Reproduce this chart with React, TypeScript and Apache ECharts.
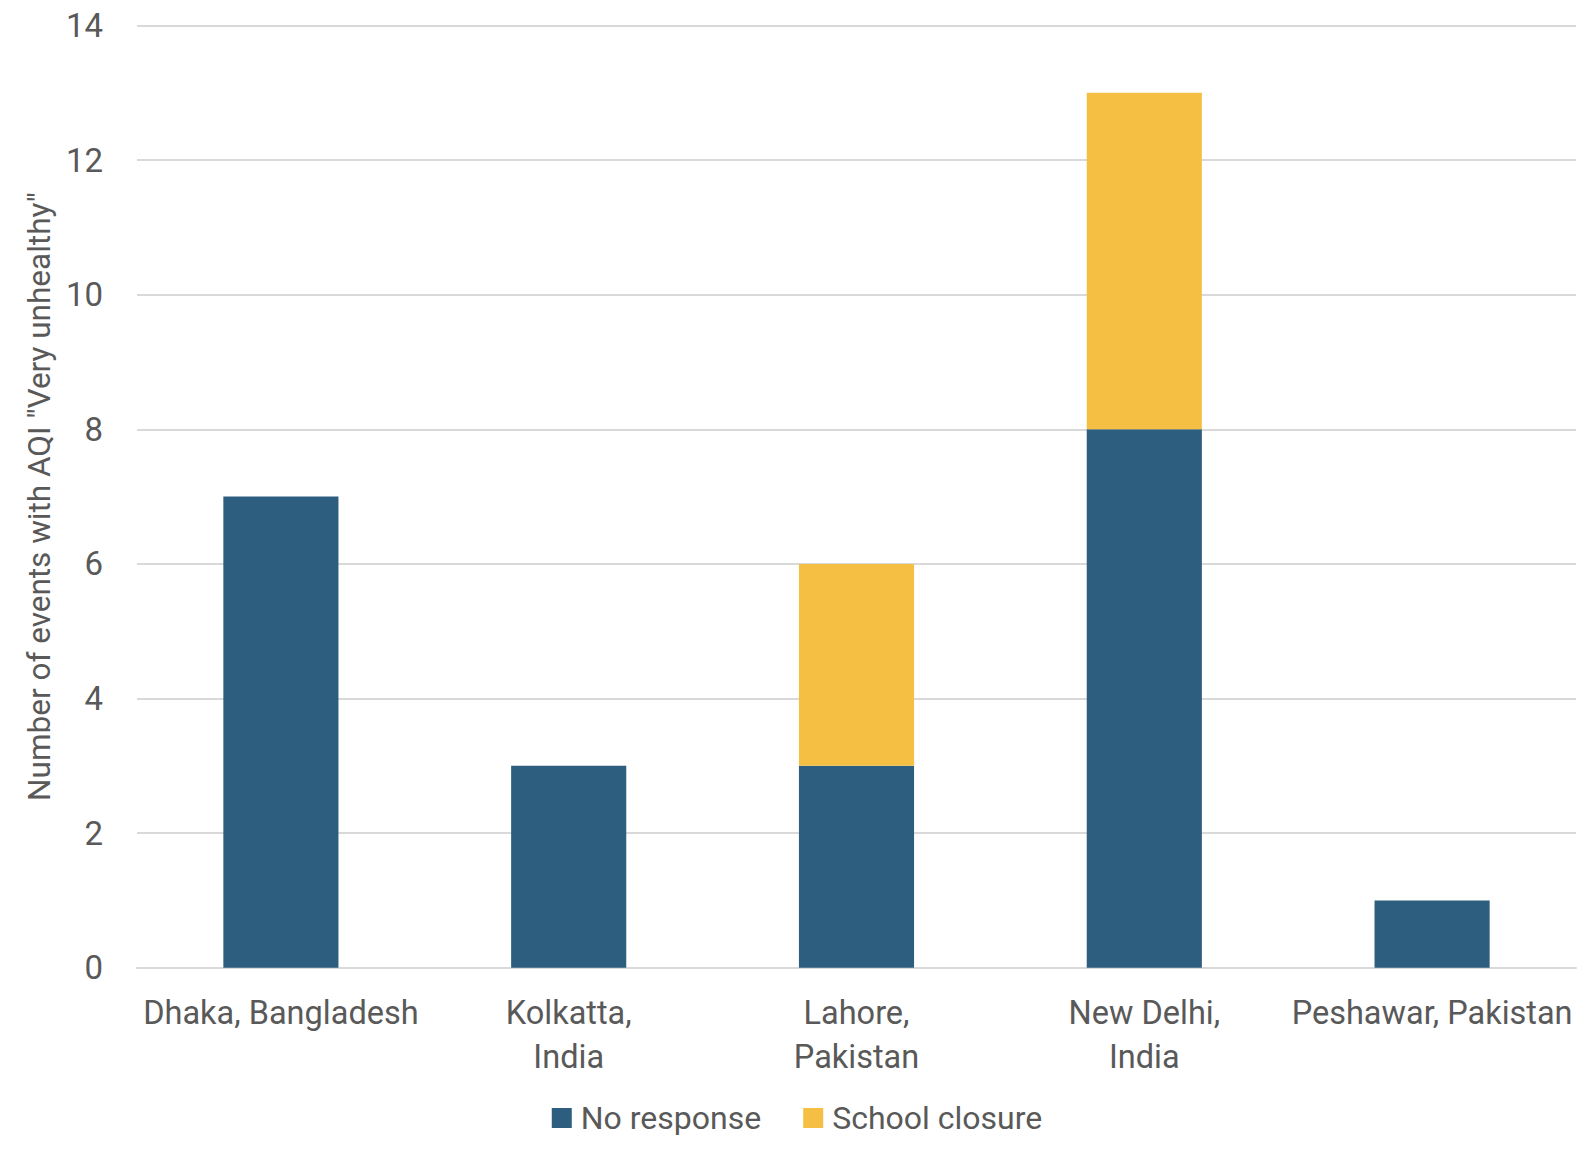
import React, { useEffect, useRef } from "react";
import * as echarts from "echarts";

const categories = [
  "Dhaka, Bangladesh",
  "Kolkatta,\nIndia",
  "Lahore,\nPakistan",
  "New Delhi,\nIndia",
  "Peshawar, Pakistan",
];
const noResponse = [7, 3, 3, 8, 1];
const schoolClosure = [0, 0, 3, 5, 0];
const seriesNames = ["No response", "School closure"];
const yTicks = { min: 0, max: 14, interval: 2 };
const yAxisTitle = 'Number of events with AQI "Very unhealthy"';

const FONT = "Roboto, 'Noto Sans', 'DejaVu Sans', sans-serif";
const TEXT = "#595959";
const GRID = "#D9D9D9";

export default function App() {
  const ref = useRef<HTMLDivElement>(null);
  useEffect(() => {
    document.body.style.margin = "0";
    if (!ref.current) return;
    const chart = echarts.init(ref.current, undefined, { renderer: "svg" });
    chart.setOption({
      animation: false,
      backgroundColor: "#ffffff",
      textStyle: { fontFamily: FONT },
      grid: { left: 137, right: 18, top: 25.5, bottom: 182.3, containLabel: false },
      legend: {
        data: seriesNames,
        left: "center",
        top: 1097,
        itemWidth: 20,
        itemHeight: 20,
        itemGap: 42,
        icon: "rect",
        textStyle: { fontSize: 32, color: TEXT, fontFamily: FONT, padding: [0, 0, 0, 4] },
      },
      xAxis: {
        type: "category",
        data: categories,
        axisLine: { show: true, lineStyle: { color: GRID, width: 2 } },
        axisTick: { show: false },
        axisLabel: {
          color: TEXT,
          fontSize: 32.5,
          fontFamily: FONT,
          margin: 23,
          lineHeight: 44,
          interval: 0,
        },
      },
      yAxis: {
        type: "value",
        min: yTicks.min,
        max: yTicks.max,
        interval: yTicks.interval,
        name: yAxisTitle,
        nameLocation: "middle",
        nameRotate: 90,
        nameGap: 82,
        nameTextStyle: { color: TEXT, fontSize: 31.5, fontFamily: FONT },
        axisLine: { show: false },
        axisTick: { show: false },
        axisLabel: { color: TEXT, fontSize: 33, fontFamily: FONT, margin: 34 },
        splitLine: { lineStyle: { color: GRID, width: 2 } },
      },
      series: [
        {
          name: seriesNames[0],
          type: "bar",
          stack: "total",
          data: noResponse,
          barWidth: "40%",
          itemStyle: { color: "#2D5E7F" },
        },
        {
          name: seriesNames[1],
          type: "bar",
          stack: "total",
          data: schoolClosure,
          barWidth: "40%",
          itemStyle: { color: "#F5BF43" },
        },
      ],
    });
    return () => chart.dispose();
  }, []);
  return <div ref={ref} style={{ width: 1594, height: 1150 }} />;
}
